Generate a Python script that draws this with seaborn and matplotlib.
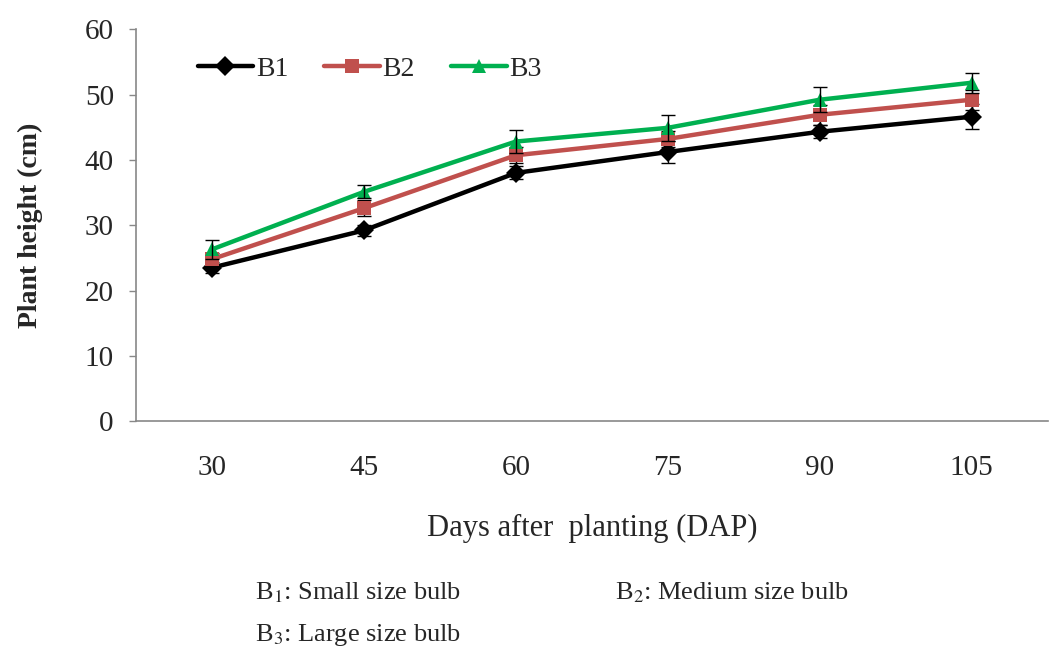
import numpy as np
import pandas as pd
import matplotlib
matplotlib.use("Agg")
import matplotlib.pyplot as plt
import seaborn as sns

days = ["30", "45", "60", "75", "90", "105"]
series_names = ["B1", "B2", "B3"]
b1 = [23.5, 29.2, 38.0, 41.2, 44.3, 46.6]
b2 = [24.8, 32.6, 40.7, 43.2, 46.9, 49.2]
b3 = [26.3, 35.1, 42.8, 44.9, 49.2, 51.8]
b1_err = [0.8, 0.8, 1.0, 1.7, 1.0, 1.9]
b2_err = [1.0, 1.2, 1.2, 1.2, 1.5, 1.5]
b3_err = [1.5, 1.0, 1.8, 2.0, 1.9, 1.5]
colors = ["#000000", "#C0504D", "#00B050"]
markers = ["D", "s", "^"]

sns.set_theme(style="white")
plt.rcParams['font.family'] = ['Liberation Serif', 'DejaVu Serif']
plt.rcParams['mathtext.fontset'] = 'stix'

pos = np.arange(len(days))
values = [b1, b2, b3]
errs = [b1_err, b2_err, b3_err]
df = pd.DataFrame({
    "pos": np.tile(pos, 3),
    "val": np.concatenate(values),
    "series": np.repeat(series_names, len(days)),
})

fig = plt.figure(figsize=(10.49, 6.48), dpi=100)
ax = fig.add_axes([0.1297, 0.350, 0.869, 0.605])

for i, name in enumerate(series_names):
    ax.errorbar(pos, values[i], yerr=errs[i], fmt="none", ecolor="black",
                elinewidth=1.0, capsize=5, capthick=1.0, zorder=2 + i)

sns.lineplot(data=df, x="pos", y="val", hue="series", style="series",
             palette=colors, markers=markers, dashes=False, linewidth=3.2,
             markersize=10, markeredgewidth=0, ax=ax, zorder=3)

ax.set_xlim(-0.5, 5.5)
ax.set_ylim(0, 60)
ax.set_yticks(np.arange(0, 61, 10))
ax.set_xticks(pos)
ax.set_xticklabels(days)
ax.set_xticks(np.arange(-0.5, 5.6, 1), minor=True)
ax.tick_params(axis="x", which="major", length=0, pad=24, labelsize=21)
ax.tick_params(axis="x", which="minor", length=5, width=1, color="#888888", direction="out")
ax.tick_params(axis="y", which="major", length=5, width=1, color="#888888",
               direction="out", left=True, pad=11, labelsize=21)
for s in ["top", "right"]:
    ax.spines[s].set_visible(False)
for s in ["left", "bottom"]:
    ax.spines[s].set_color("#888888")
    ax.spines[s].set_linewidth(1.2)

ax.set_xlabel("Days after  planting (DAP)", fontsize=22, labelpad=24)
ax.set_ylabel("Plant height (cm)", fontsize=20, fontweight="bold", labelpad=30)

handles, labels = ax.get_legend_handles_labels()
ax.legend(handles, labels, loc="upper left", bbox_to_anchor=(0.04, 0.995), ncol=3,
          frameon=False, fontsize=20, handlelength=2.0, columnspacing=1.3,
          handletextpad=0.1)

fig.text(0.243, 0.086, r"B$_1$: Small size bulb", fontsize=19, va="center")
fig.text(0.586, 0.086, r"B$_2$: Medium size bulb", fontsize=19, va="center")
fig.text(0.243, 0.020, r"B$_3$: Large size bulb", fontsize=19, va="center")

fig.savefig("out.png", dpi=100)
